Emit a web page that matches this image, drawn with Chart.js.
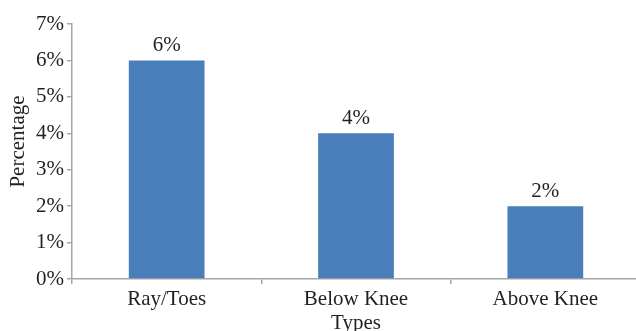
<!DOCTYPE html>
<html>
<head>
<meta charset="utf-8">
<script src="https://cdn.jsdelivr.net/npm/chart.js@4/dist/chart.umd.min.js"></script>
<style>
  html, body { margin: 0; padding: 0; background: #fff; overflow: hidden; }
  #wrap { position: relative; width: 642px; height: 331px; }
</style>
</head>
<body>
<div id="wrap"><canvas id="chart" width="642" height="331"></canvas></div>
<script>
// Amputation types and their share of cases
const categories = ['Ray/Toes', 'Below Knee', 'Above Knee'];
const percentages = [6, 4, 2];
const yTicks = [0, 1, 2, 3, 4, 5, 6, 7];
const yTitle = 'Percentage';
const xTitle = 'Types';

const FONT = "'Liberation Serif', 'Times New Roman', serif";
const FONT_SIZE = 21;
const AXIS_GREY = '#a6a6a6';
const TEXT = '#231f20';

// Writes each bar's value above it, plus the vertical axis title
const annotations = {
  id: 'annotations',
  afterDatasetsDraw(chart) {
    const ctx = chart.ctx;
    const meta = chart.getDatasetMeta(0);
    const area = chart.chartArea;
    ctx.save();
    ctx.font = FONT_SIZE + 'px ' + FONT;
    ctx.fillStyle = TEXT;
    ctx.textAlign = 'center';
    ctx.textBaseline = 'alphabetic';
    meta.data.forEach((bar, i) => {
      ctx.fillText(percentages[i] + '%', bar.x, bar.y - 9);
    });
    // y-axis title, rotated, sitting slightly above the axis midpoint
    ctx.translate(area.left - 54, (area.top + area.bottom) / 2 - 10);
    ctx.rotate(-Math.PI / 2);
    ctx.textBaseline = 'middle';
    ctx.fillText(yTitle, 0, 0);
    ctx.restore();
  }
};

new Chart(document.getElementById('chart'), {
  type: 'bar',
  data: {
    labels: categories,
    datasets: [{
      data: percentages,
      backgroundColor: '#4a7ebb',
      borderWidth: 0,
      categoryPercentage: 1.0,
      barPercentage: 0.4
    }]
  },
  options: {
    responsive: false,
    animation: false,
    devicePixelRatio: 1,
    layout: { padding: { top: 24, right: 2, left: 5, bottom: 0 } },
    plugins: { legend: { display: false }, tooltip: { enabled: false } },
    scales: {
      x: {
        grid: {
          display: true,
          drawOnChartArea: false,
          drawTicks: true,
          tickLength: 5,
          color: AXIS_GREY,
          lineWidth: 1.5
        },
        border: { color: AXIS_GREY, width: 1.5 },
        ticks: {
          color: TEXT,
          font: { family: FONT, size: FONT_SIZE },
          padding: 3,
          maxRotation: 0
        },
        title: {
          display: true,
          text: xTitle,
          color: TEXT,
          font: { family: FONT, size: FONT_SIZE },
          padding: { top: 0, bottom: -5 }
        },
        afterFit(scale) { scale.height = 52; }
      },
      y: {
        min: 0,
        max: 7,
        afterBuildTicks(scale) { scale.ticks = yTicks.map(v => ({ value: v })); },
        grid: {
          display: true,
          drawOnChartArea: false,
          drawTicks: true,
          tickLength: 5,
          color: AXIS_GREY,
          lineWidth: 1.5
        },
        border: { color: AXIS_GREY, width: 1.5 },
        ticks: {
          color: TEXT,
          font: { family: FONT, size: FONT_SIZE },
          padding: 3,
          callback: v => v + '%'
        },
        afterFit(scale) { scale.width = 67; }
      }
    }
  },
  plugins: [annotations]
});
</script>
</body>
</html>
